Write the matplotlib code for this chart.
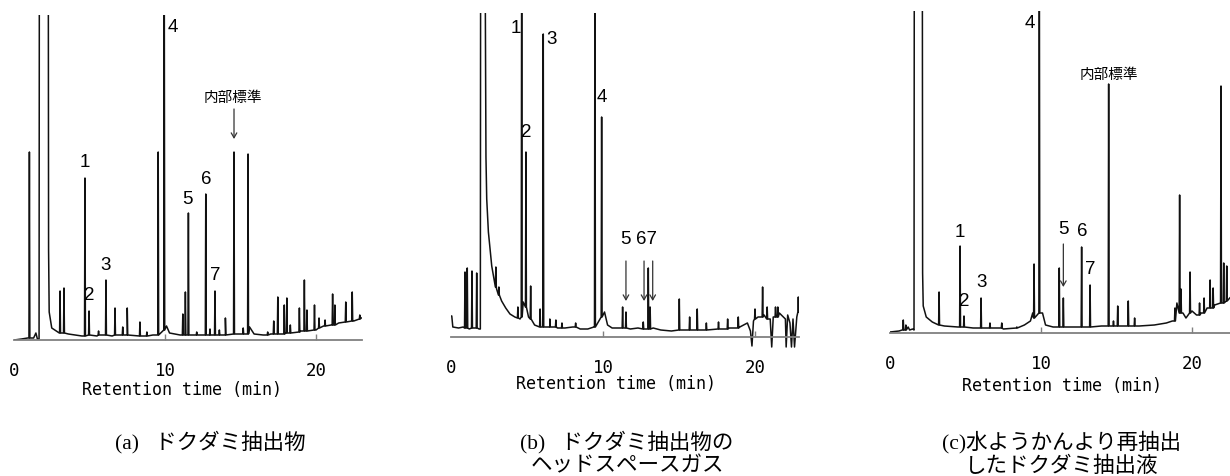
import numpy as np
import matplotlib
matplotlib.use("Agg")
import matplotlib.pyplot as plt

# ---------------- data (intensity in arbitrary units, time in min) ----------------
# Panel (a) ドクダミ抽出物
a_env_t = [0.0, 0.5, 0.9, 1.3, 1.45, 1.55, 1.66, 1.68, 2.27, 2.29, 2.33, 2.5, 3.0, 3.6, 4.5, 5.0,
           5.5, 6.5, 7.5, 8.5, 9.2, 10.1, 10.3, 11.0, 12.0, 13.0, 14.0, 15.0, 15.6, 15.9, 16.5,
           17.0, 18.0, 19.0, 20.0, 20.5, 21.0, 21.5, 22.0, 22.5, 23.0]
a_env_h = [0, 1, 2, 2, 7, 1, 1, 400, 400, 90, 28, 12, 7, 6, 4, 5,
           4, 4, 5, 4, 5, 14, 7, 5, 5, 5, 6, 6, 13, 6, 5,
           6, 7, 9, 10, 14, 15, 17, 18, 19, 22]
a_pk_t = [1.02, 3.05, 3.31, 4.70, 4.97, 5.6, 6.09, 6.69, 7.2, 7.5, 8.34, 8.8, 9.55, 9.95,
          11.18, 11.35, 11.55, 12.1, 12.7, 12.98, 13.31, 13.6, 14.0, 14.57, 15.18, 15.5,
          16.8, 17.2, 17.47, 17.9, 18.07, 18.3, 18.9, 19.23, 19.4, 19.9, 20.2, 20.6,
          21.1, 21.25, 21.97, 22.4, 22.9]
a_pk_base = [2, 7, 7, 4, 5, 5, 5, 5, 5, 5, 4, 4, 5, 10,
             5, 5, 5, 5, 5, 5, 5, 5, 5, 6, 6, 6,
             5, 6, 6, 6, 7, 7, 8, 9, 9, 10, 12, 14,
             15, 15, 18, 19, 21]
a_pk_top = [188, 49, 52, 162, 29, 9, 60, 32, 13, 32, 18, 8, 188, 400,
            26, 48, 127, 8, 146, 11, 49, 10, 22, 188, 12, 186,
            8, 19, 43, 35, 42, 15, 32, 60, 30, 35, 22, 20,
            46, 35, 38, 48, 25]

# Panel (b) ドクダミ抽出物のヘッドスペースガス
b_env_t = [0.0, 0.05, 0.12, 0.5, 0.8, 1.2, 1.5, 1.85, 1.93, 1.95, 2.24, 2.3, 2.35, 2.46, 2.68,
           3.0, 3.33, 3.6, 3.88, 4.2, 4.54, 4.75, 5.1, 5.5, 6.0, 6.5, 7.0, 7.5, 8.0, 8.5, 9.0,
           9.4, 10.1, 10.3, 10.6, 11.0, 11.8, 12.3, 13.3, 13.8, 14.5, 15.5, 16.5, 17.5, 18.3,
           19.0, 19.5, 19.7, 19.8, 19.9, 20.2, 20.6, 21.0, 21.1, 21.2, 21.6, 22.0, 22.05,
           22.15, 22.3, 22.4, 22.5, 22.6, 22.75, 22.9]
b_env_h = [21, 21, 10, 9, 10, 8, 9, 8, 8, 400, 400, 180, 138, 105, 71,
           48, 36, 29, 23, 20, 18, 35, 20, 12, 10, 11, 9, 9, 10, 8, 8,
           10, 25, 12, 9, 9, 8, 9, 9, 7, 6, 7, 7, 8, 9,
           10, 14, 6, -9, 16, 20, 22, 18, -10, 20, 24, 18, -10,
           22, 14, -10, 18, -10, 20, 28]
b_pk_t = [0.92, 1.07, 1.38, 1.69, 2.95, 3.15, 4.4, 4.65, 4.93, 5.24, 5.86, 6.07, 6.5, 6.9,
          7.3, 8.2, 9.47, 9.91, 11.29, 11.51, 12.65, 12.98, 13.1, 15.02, 15.7, 16.2, 16.8,
          17.6, 18.2, 18.9, 20.0, 20.5, 20.8, 21.35, 21.5, 22.85]
b_pk_base = [9, 9, 9, 9, 50, 42, 19, 20, 30, 18, 10, 10, 10, 10,
             9, 10, 10, 20, 9, 9, 8, 8, 8, 7, 7, 7, 7,
             8, 8, 9, 18, 20, 18, 20, 20, 25]
b_pk_top = [65, 69, 66, 64, 70, 50, 30, 400, 185, 51, 28, 303, 18, 17,
            14, 14, 400, 220, 30, 25, 15, 69, 30, 38, 20, 28, 14,
            15, 18, 20, 28, 50, 30, 30, 30, 40]

# Panel (c) 水ようかんより再抽出したドクダミ抽出液
c_env_t = [0.0, 0.6, 0.8, 1.0, 1.2, 1.3, 1.5, 1.59, 1.61, 2.14, 2.16, 2.2, 2.4, 2.8, 3.6, 4.5,
           5.5, 6.5, 7.5, 8.3, 8.9, 9.3, 9.45, 10.1, 10.3, 10.8, 11.8, 12.3, 13.0, 14.0, 15.0,
           15.5, 16.5, 17.5, 18.3, 18.7, 19.0, 19.4, 19.6, 20.0, 20.3, 20.6, 21.0, 21.5,
           22.0, 22.5, 22.85]
c_env_h = [1, 2, 3, 3, 6, 3, 4, 3, 400, 400, 60, 27, 16, 11, 7, 6,
           5, 5, 4, 5, 8, 12, 20, 20, 8, 6, 6, 6, 6, 7, 7,
           7, 7, 8, 10, 12, 30, 20, 15, 22, 18, 20, 25, 28,
           30, 35, 40]
c_pk_t = [0.88, 1.05, 3.25, 4.64, 4.9, 6.03, 6.62, 7.4, 8.4, 9.54, 9.89, 11.21, 11.48, 12.69,
          13.25, 14.48, 14.8, 15.08, 15.78, 16.2, 18.87, 19.18, 19.27, 19.87, 20.5, 20.8,
          21.2, 21.4, 21.92, 22.1, 22.3]
c_pk_base = [3, 3, 8, 6, 6, 5, 5, 5, 5, 15, 20, 6, 6, 6,
             6, 7, 7, 7, 7, 7, 12, 20, 20, 20, 18, 20,
             25, 25, 30, 30, 32]
c_pk_top = [13, 8, 41, 87, 17, 35, 10, 10, 6, 69, 400, 65, 35, 86,
            48, 249, 12, 27, 32, 15, 25, 138, 44, 61, 30, 35,
            53, 45, 247, 70, 67]

tick_values = [0, 10, 20]
tick_labels = ["0", "10", "20"]
x_label = "Retention time (min)"
captions = [["(a)   ドクダミ抽出物"],
            ["(b)   ドクダミ抽出物の", "ヘッドスペースガス"],
            ["(c)水ようかんより再抽出", "したドクダミ抽出液"]]

# ---------------- drawing ----------------
W, H = 1230, 477
fig = plt.figure(figsize=(W / 100, H / 100), dpi=100)

num_font = ["Liberation Sans", "DejaVu Sans"]
cjk_font = ["Noto Sans CJK JP", "DejaVu Sans"]
mono_font = ["DejaVu Sans Mono"]
cap_font = ["Liberation Serif", "Noto Sans CJK JP"]
AXIS_COL = "#808080"
TRACE_COL = "#111111"


def build_trace(env_t, env_h, pk_t, pk_base, pk_top, w=0.03):
    xs = list(env_t)
    ys = list(env_h)
    for t, b, h in zip(pk_t, pk_base, pk_top):
        xs += [t - w, t, t + w]
        ys += [b, h, b]
    xs = np.array(xs)
    ys = np.array(ys)
    order = np.argsort(xs, kind="stable")
    return xs[order], ys[order]


def make_axes(left_px, right_px, axis_px, top_px, xmax, ymin, ymax):
    scale = (axis_px - top_px) / ymax
    bottom_px = axis_px - ymin * scale
    ax = fig.add_axes([left_px / W, (H - bottom_px) / H,
                       (right_px - left_px) / W, (bottom_px - top_px) / H])
    ax.set_xlim(0, xmax)
    ax.set_ylim(ymin, ymax)
    for s in ["top", "left", "right"]:
        ax.spines[s].set_visible(False)
    ax.spines["bottom"].set_position(("data", 0))
    ax.spines["bottom"].set_color(AXIS_COL)
    ax.spines["bottom"].set_linewidth(1.3)
    ax.set_yticks([])
    ax.set_xticks(tick_values)
    ax.set_xticklabels(tick_labels, fontfamily=mono_font, fontsize=12.5)
    ax.tick_params(axis="x", direction="in", length=4, width=1.0, color=AXIS_COL, pad=15)
    ax.xaxis.get_major_ticks()[0].tick1line.set_visible(False)
    ax.patch.set_alpha(0)
    return ax


def label_axis(ax, xc, yc):
    ax.set_xlabel(x_label, fontfamily=mono_font, fontsize=12)
    ax.xaxis.set_label_coords(xc / W, 1 - yc / H, transform=fig.transFigure)
    ax.xaxis.label.set_verticalalignment("center")


def num(ax, t, h, s):
    ax.text(t, h, s, fontfamily=num_font, fontsize=13.5, ha="center", va="center")


def arrow(ax, t, h0, h1):
    ax.annotate("", xy=(t, h1), xytext=(t, h0),
                arrowprops=dict(arrowstyle="->,head_length=0.35,head_width=0.2",
                                color="#333333", lw=0.9, shrinkA=0, shrinkB=0))


# ---- panel (a)
ax_a = make_axes(14, 362, 341, 16, 348 / 15.1, 0, 325)
xa, ya = build_trace(a_env_t, a_env_h, a_pk_t, a_pk_base, a_pk_top)
ax_a.plot(xa, ya, color=TRACE_COL, lw=1.1)
label_axis(ax_a, 182, 390)
for t, h, s in [(4.70, 178, "1"), (4.97, 46, "2"), (6.09, 76, "3"), (10.53, 313, "4"),
                (11.52, 141, "5"), (12.72, 161, "6"), (13.31, 65, "7")]:
    num(ax_a, t, h, s)
ax_a.text(14.5, 243, "内部標準", fontfamily=cjk_font, fontsize=10.5, ha="center", va="center")
arrow(ax_a, 14.57, 231, 201)

# ---- panel (b)
ax_b = make_axes(451, 799, 338, 14, 348 / 15.2, -14, 324)
xb, yb = build_trace(b_env_t, b_env_h, b_pk_t, b_pk_base, b_pk_top)
ax_b.plot(xb, yb, color=TRACE_COL, lw=1.1)
label_axis(ax_b, 616, 384)
for t, h, s in [(4.28, 310, "1"), (4.93, 206, "2"), (6.64, 299, "3"), (9.93, 241, "4"),
                (11.51, 98, "5"), (12.89, 98, "67")]:
    num(ax_b, t, h, s)
for t in [11.51, 12.70, 13.27]:
    arrow(ax_b, t, 76, 36)

# ---- panel (c)
ax_c = make_axes(890, 1232, 334, 12, 342 / 15.1, 0, 322)
xc, yc = build_trace(c_env_t, c_env_h, c_pk_t, c_pk_base, c_pk_top)
ax_c.plot(xc, yc, color=TRACE_COL, lw=1.1)
label_axis(ax_c, 1062, 386)
for t, h, s in [(4.64, 101, "1"), (4.90, 32, "2"), (6.03, 51, "3"), (9.23, 311, "4"),
                (11.48, 104, "5"), (12.70, 102, "6"), (13.25, 64, "7")]:
    num(ax_c, t, h, s)
ax_c.text(14.52, 259, "内部標準", fontfamily=cjk_font, fontsize=10.5, ha="center", va="center")
arrow(ax_c, 11.48, 89, 46)

# ---- captions
cap_x = [210, 627, 1062]
cap_y = [442, 467]
for xcen, lines in zip(cap_x, captions):
    for yline, s in zip(cap_y, lines):
        fig.text(xcen / W, 1 - yline / H, s, fontfamily=cap_font, fontsize=15.5,
                 ha="center", va="center")

fig.savefig("out.png", dpi=100)
